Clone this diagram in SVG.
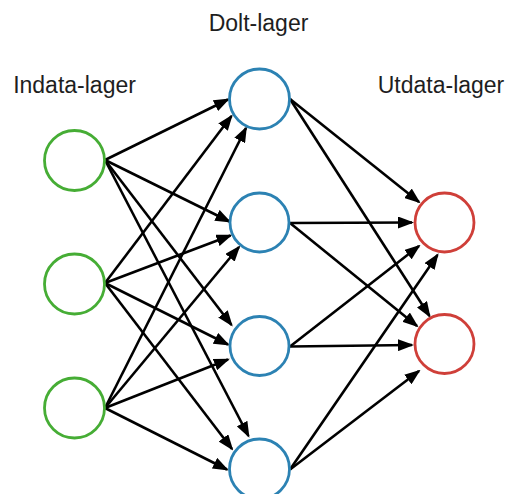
<svg xmlns="http://www.w3.org/2000/svg" width="510" height="494" viewBox="0 0 510 494">
  <style>
    .label { font-family: "Liberation Sans", Arial, Helvetica, sans-serif; font-size: 23px; fill: #1e1e1e; text-anchor: middle; }
    .node { fill: #ffffff; stroke-width: 2.8; }
    .in { stroke: #46ad35; }
    .hid { stroke: #2c82b3; }
    .out { stroke: #cf3f39; }
    .edges line { stroke: #000000; stroke-width: 2.6; marker-end: url(#arrow); }
  </style>
  <defs>
    <marker id="arrow" viewBox="0 0 16 12" refX="14" refY="6" markerWidth="16" markerHeight="12" markerUnits="userSpaceOnUse" orient="auto">
      <path d="M0,0 L16,6 L0,12 Z" fill="#000000"/>
    </marker>
  </defs>
  <rect width="510" height="494" fill="#ffffff"/>

  <!-- layer titles -->
  <text class="label" x="258.5" y="31">Dolt-lager</text>
  <text class="label" x="74.5" y="93">Indata-lager</text>
  <text class="label" x="441" y="93">Utdata-lager</text>

  <!-- connections -->
  <g id="connectors" class="edges">
    <!-- input 1 -> hidden -->
    <line x1="105" y1="160" x2="228" y2="99.5"/>
    <line x1="105" y1="160" x2="229.5" y2="221.5"/>
    <line x1="105" y1="160" x2="231.5" y2="325"/>
    <line x1="105" y1="160" x2="248.5" y2="436"/>
    <!-- input 2 -> hidden -->
    <line x1="105" y1="283" x2="231.5" y2="116"/>
    <line x1="105" y1="283" x2="230.5" y2="235.5"/>
    <line x1="105" y1="283" x2="228" y2="344.5"/>
    <line x1="105" y1="283" x2="232" y2="449"/>
    <!-- input 3 -> hidden -->
    <line x1="105" y1="408" x2="246" y2="128"/>
    <line x1="105" y1="408" x2="239" y2="247"/>
    <line x1="105" y1="408" x2="228" y2="359.5"/>
    <line x1="105" y1="408" x2="227" y2="469.5"/>
    <!-- hidden 1 -> output -->
    <line x1="290" y1="99" x2="419" y2="202"/>
    <line x1="290" y1="99" x2="429.5" y2="316"/>
    <!-- hidden 2 -> output -->
    <line x1="290" y1="223" x2="412" y2="222.5"/>
    <line x1="290" y1="223" x2="417" y2="326"/>
    <!-- hidden 3 -> output -->
    <line x1="290" y1="346.5" x2="419" y2="246"/>
    <line x1="290" y1="346.5" x2="412" y2="345"/>
    <!-- hidden 4 -> output -->
    <line x1="290" y1="469.5" x2="437.5" y2="255"/>
    <line x1="290" y1="469.5" x2="419" y2="371"/>
  </g>

  <!-- input layer -->
  <g id="in1"><circle class="node in" cx="74.5" cy="160.5" r="30"/></g>
  <g id="in2"><circle class="node in" cx="74.5" cy="284" r="30"/></g>
  <g id="in3"><circle class="node in" cx="74.5" cy="408" r="30"/></g>

  <!-- hidden layer -->
  <g id="hid1"><circle class="node hid" cx="259.5" cy="99" r="30"/></g>
  <g id="hid2"><circle class="node hid" cx="259.5" cy="222.5" r="29.5"/></g>
  <g id="hid3"><circle class="node hid" cx="259.5" cy="346" r="29.5"/></g>
  <g id="hid4"><circle class="node hid" cx="259.5" cy="469" r="30"/></g>

  <!-- output layer -->
  <g id="out1"><circle class="node out" cx="444.5" cy="222.5" r="29.5"/></g>
  <g id="out2"><circle class="node out" cx="444.5" cy="344" r="29.5"/></g>
</svg>
